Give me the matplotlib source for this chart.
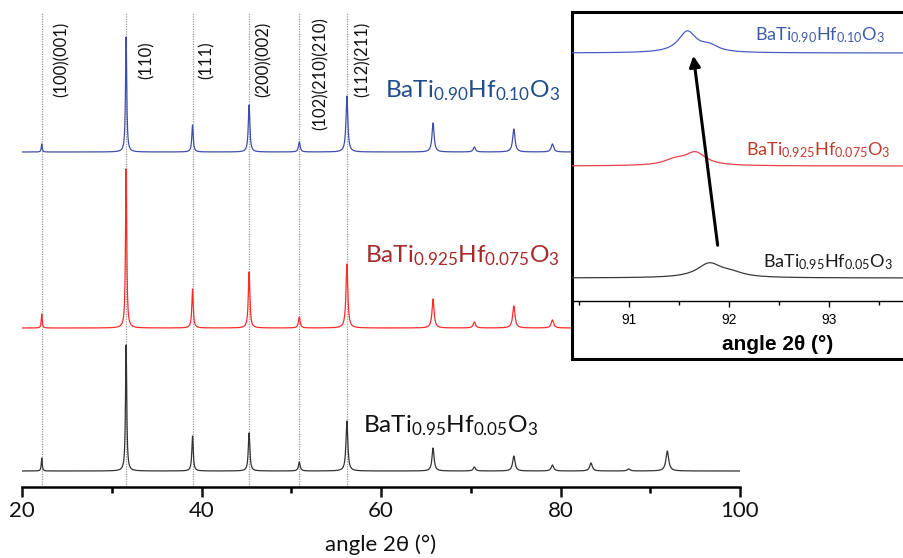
import numpy as np
import matplotlib.pyplot as plt
from matplotlib.patches import Rectangle
from matplotlib.ticker import MultipleLocator

plt.rcParams['font.family'] = ['Lato', 'DejaVu Sans']
plt.rcParams['mathtext.fontset'] = 'custom'
plt.rcParams['mathtext.rm'] = 'Lato'
plt.rcParams['mathtext.it'] = 'Lato:italic'
plt.rcParams['mathtext.bf'] = 'Lato:bold'

# peak positions (2theta, deg) and peak heights
peaks_005 = [22.2, 31.6, 39.0, 45.3, 50.9, 56.2, 65.8, 70.4, 74.8, 79.1, 83.4, 87.6, 91.9]
h_005 = [13, 126, 35, 38, 9, 50, 23, 4, 15, 6, 8, 2, 20]
peaks_0075 = [22.2, 31.6, 39.0, 45.3, 50.9, 56.2, 65.8, 70.4, 74.8, 79.1]
h_0075 = [14, 159, 39, 56, 11, 64, 29, 6, 22, 8]
peaks_010 = [22.2, 31.6, 39.0, 45.3, 50.9, 56.2, 65.8, 70.4, 74.8, 79.1]
h_010 = [8, 115, 27, 47, 10, 56, 29, 5, 23, 8]

hkl_pos = [22.2, 31.6, 39.0, 45.3, 50.9, 56.2]
hkl_labels = ['(100)(001)', '(110)', '(111)', '(200)(002)', '(102)(210)(210)', '(112)(211)']

# inset: zoom of the ~92 deg reflection
ins_peaks_005 = [91.80, 92.02]
ins_h_005 = [14, 4]
ins_peaks_0075 = [91.45, 91.66]
ins_h_0075 = [5, 13]
ins_peaks_010 = [91.58, 91.80]
ins_h_010 = [21, 6]

names = [r'BaTi$_{0.90}$Hf$_{0.10}$O$_3$',
         r'BaTi$_{0.925}$Hf$_{0.075}$O$_3$',
         r'BaTi$_{0.95}$Hf$_{0.05}$O$_3$']

W, H = 904, 558


def fx(px):
    return px / W


def fy(py):
    return 1 - py / H


def pattern(x, pos, hts, base_w=0.12, slope=0.0035):
    y = np.zeros_like(x)
    for p, h in zip(pos, hts):
        g = (base_w + slope * (p - 20)) / 2
        y += h * g**2 / ((x - p)**2 + g**2)
    return y


fig = plt.figure(figsize=(9.04, 5.58), dpi=100)
ax = fig.add_axes([fx(22), fy(487), fx(740) - fx(22), fy(5) - fy(487)])

x = np.linspace(20, 100, 8001)
ax.plot(x, 16 + pattern(x, peaks_005, h_005), color='#333333', lw=0.9)
ax.plot(x, 159 + pattern(x, peaks_0075, h_0075), color='#ff2b2b', lw=0.9)
ax.plot(x, 335 + pattern(x, peaks_010, h_010), color='#3f4fa8', lw=0.9)

for p in hkl_pos:
    ax.plot([p, p], [0, 474], color='#9a9a9a', lw=0.9, ls=(0, (1, 1)), zorder=0)

hkl_y = [428, 427, 427, 428, 413, 428]
hkl_x = [61.7, 146.7, 207, 264, 320.7, 363]
for lx, ly, lab in zip(hkl_x, hkl_y, hkl_labels):
    ax.text(fx(lx), fy(487 - ly), lab, transform=fig.transFigure, rotation=90,
            ha='center', va='center', fontsize=12, color='#111111')

ax.set_xlim(20, 100)
ax.set_ylim(0, 482)
for s in ['top', 'left', 'right']:
    ax.spines[s].set_visible(False)
ax.spines['bottom'].set_linewidth(1.8)
ax.set_yticks([])
ax.xaxis.set_major_locator(MultipleLocator(20))
ax.xaxis.set_minor_locator(MultipleLocator(10))
ax.tick_params(axis='x', which='major', direction='out', length=7, width=1.8,
               labelsize=16, pad=3, colors='#111111')
ax.tick_params(axis='x', which='minor', direction='out', length=4, width=1.8)
fig.text(fx(381), fy(545), 'angle 2θ (°)', ha='center', va='center',
         fontsize=16, color='#111111')

main_cols = ['#1f4e8a', '#a52a2a', '#111111']
main_pos = [(385, 97), (365, 262), (363, 432)]
for name, c, (px, py) in zip(names, main_cols, main_pos):
    fig.text(fx(px), fy(py), name, ha='left', va='baseline', fontsize=17.6, color=c)

# inset frame
box = Rectangle((fx(572), fy(359)), fx(912) - fx(572), fy(12) - fy(359),
                transform=fig.transFigure, facecolor='white', edgecolor='black',
                lw=2.2, zorder=1)
fig.add_artist(box)

ax2 = fig.add_axes([fx(572), fy(301), fx(906) - fx(572), fy(12) - fy(301)])
ax2.set_zorder(2)
ax2.patch.set_alpha(0)
xi = np.linspace(90.3, 93.9, 1801)
ax2.plot(xi, 23 + pattern(xi, ins_peaks_005, ins_h_005, 0.3, 0), color='#3a3a3a', lw=0.9)
ax2.plot(xi, 135 + pattern(xi, ins_peaks_0075, ins_h_0075, 0.26, 0), color='#e8404a', lw=0.9)
ax2.plot(xi, 248 + pattern(xi, ins_peaks_010, ins_h_010, 0.22, 0), color='#4a5cc4', lw=0.9)
ax2.annotate('', xy=(91.637, 248), xytext=(91.887, 53),
             arrowprops=dict(arrowstyle='-|>', lw=2.2, color='black', mutation_scale=16))
ax2.set_xlim(90.427, 93.767)
ax2.set_ylim(0, 289)
for s in ['top', 'left', 'right']:
    ax2.spines[s].set_visible(False)
ax2.spines['bottom'].set_linewidth(1.0)
ax2.set_yticks([])
ax2.set_xticks([91, 92, 93])
ax2.xaxis.set_minor_locator(MultipleLocator(0.5))
ax2.tick_params(axis='x', which='major', direction='out', length=4, width=1,
                labelsize=10, pad=5)
ax2.tick_params(axis='x', which='minor', direction='out', length=3, width=1)
for lab in ax2.get_xticklabels():
    lab.set_family('Liberation Sans')
fig.text(fx(778), fy(345), 'angle 2θ (°)', ha='center', va='center', fontsize=15,
         fontweight='bold', family='Liberation Sans', zorder=3)

ins_cols = ['#3d5ba9', '#c0392b', '#1a1a1a']
ins_pos = [(885, 40), (890, 155), (893, 267)]
for name, c, (px, py) in zip(names, ins_cols, ins_pos):
    fig.text(fx(px), fy(py), name, ha='right', va='baseline', fontsize=13, color=c, zorder=3)

fig.savefig('out.png', dpi=100)
